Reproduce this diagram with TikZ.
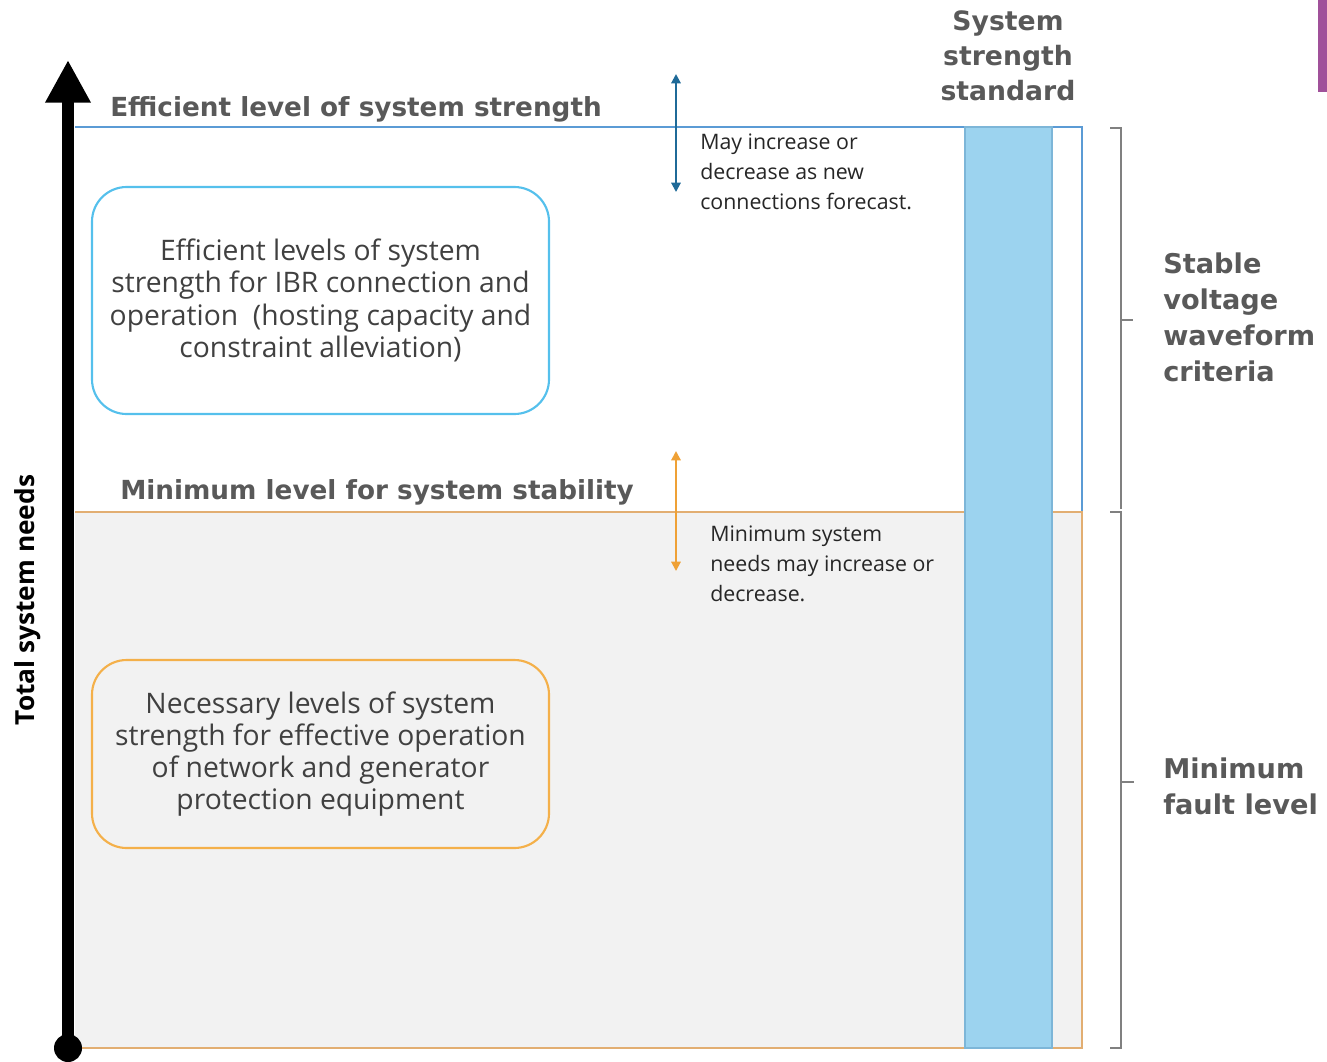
\documentclass[tikz,border=0pt]{standalone}
\usepackage{fontspec}
\setmainfont{Open Sans}
\newfontfamily\headfont{DejaVu Sans}
\usetikzlibrary{arrows.meta}
\definecolor{lineblue}{HTML}{5B9BD5}
\definecolor{lineorange}{HTML}{E2AE72}
\definecolor{fillgray}{HTML}{F2F2F2}
\definecolor{colfill}{HTML}{9CD3EF}
\definecolor{coledge}{HTML}{7DB6D8}
\definecolor{boxblue}{HTML}{55C0EC}
\definecolor{boxorange}{HTML}{F4B04A}
\definecolor{arrblue}{HTML}{1F6A98}
\definecolor{arrorange}{HTML}{EFA136}
\definecolor{brackgray}{HTML}{808080}
\definecolor{headgray}{HTML}{595959}
\definecolor{textgray}{HTML}{404040}
\definecolor{purplebar}{HTML}{A0519A}
\tikzset{
  headtext/.style={font={\headfont\bfseries\fontsize{19.7}{26}\selectfont}, text=headgray, inner sep=0pt},
  sidetext/.style={font={\headfont\bfseries\fontsize{20.4}{27}\selectfont}, text=headgray, inner sep=0pt, align=left},
  boxtext/.style={font={\fontsize{21.2}{24.2}\selectfont}, text=textgray, align=center, rounded corners=26pt, line width=1.6pt, minimum width=342.75pt},
  notetext/.style={font={\fontsize{16}{22.2}\selectfont}, text=black!85, inner sep=0pt, align=left},
  vararrow/.style={line width=1.5pt, {Triangle[width=7pt,length=7pt]}-{Triangle[width=7pt,length=7pt]}},
  bracket/.style={draw=brackgray, line width=1.2pt}
}
\begin{document}
\begin{tikzpicture}[x=0.75pt,y=-0.75pt]
\useasboundingbox (0,0) rectangle (1327,1061);
% purple bar
\fill[purplebar] (1318,0) rectangle (1327,92);
% gray lower region
\fill[fillgray] (75,512) rectangle (1082,1048);
% blue upper frame
\draw[lineblue, line width=2pt] (75,127) -- (1082,127) -- (1082,512);
% orange lower frame
\draw[lineorange, line width=2.2pt] (75,512) -- (1082,512) -- (1082,1048) -- (75,1048);
% standard column
\draw[coledge, fill=colfill, line width=1.2pt] (965,127) rectangle (1052,1048);
% axis
\coordinate (axbot) at (68,1048);
\coordinate (axtop) at (68,60);
\draw[line width=9.5pt, -{Triangle[width=32pt,length=32pt]}] (axbot) -- (axtop);
\fill (axbot) circle (10.5pt);
\node[rotate=90, font={\bfseries\fontsize{19.7}{20}\selectfont}, text=black, inner sep=0pt] (axlabel) at (28,600) {Total system needs};
% headings
\node[headtext, anchor=base west] (effhead) at (110,116) {Efficient level of system strength};
\node[headtext, anchor=base west] (minhead) at (120,499) {Minimum level for system stability};
\node[headtext, anchor=north, align=center, font={\headfont\bfseries\fontsize{20}{26.3}\selectfont}] (stdhead) at (1008,10) {System\\strength\\standard};
% boxes
\node[boxtext, draw=boxblue, minimum height=170.25pt] (effbox) at (320.5,300.5) {Efficient levels of system\\strength for IBR connection and\\operation~ (hosting capacity and\\constraint alleviation)};
\node[boxtext, draw=boxorange, minimum height=141pt] (necbox) at (320.5,754) {Necessary levels of system\\strength for effective operation\\of network and generator\\protection equipment};
% variation arrows
\coordinate (ba1) at (676,74);
\coordinate (ba2) at (676,192);
\draw[vararrow, draw=arrblue, color=arrblue] (ba1) -- (ba2);
\coordinate (oa1) at (676,451);
\coordinate (oa2) at (676,571);
\draw[vararrow, draw=arrorange, color=arrorange] (oa1) -- (oa2);
\node[notetext, anchor=north west] (note1) at (700,134) {May increase or\\decrease as new\\connections forecast.};
\node[notetext, anchor=north west] (note2) at (710,526) {Minimum system\\needs may increase or\\decrease.};
% brackets
\coordinate (b1t) at (1110,128);
\coordinate (b1b) at (1121,509);
\coordinate (b1m) at (1133,320);
\draw[bracket] (b1t) -- (1121,128) -- (b1b);
\draw[bracket] (1121,320) -- (b1m);
\coordinate (b2t) at (1110,512);
\coordinate (b2b) at (1110,1048);
\coordinate (b2m) at (1134,782);
\draw[bracket] (b2t) -- (1121,512) -- (1121,1048) -- (b2b);
\draw[bracket] (1121,782) -- (b2m);
\node[sidetext, anchor=north west] (stable) at (1163,253) {Stable\\voltage\\waveform\\criteria};
\node[sidetext, anchor=north west] (fault) at (1163,758) {Minimum\\fault level};
\end{tikzpicture}
\end{document}
